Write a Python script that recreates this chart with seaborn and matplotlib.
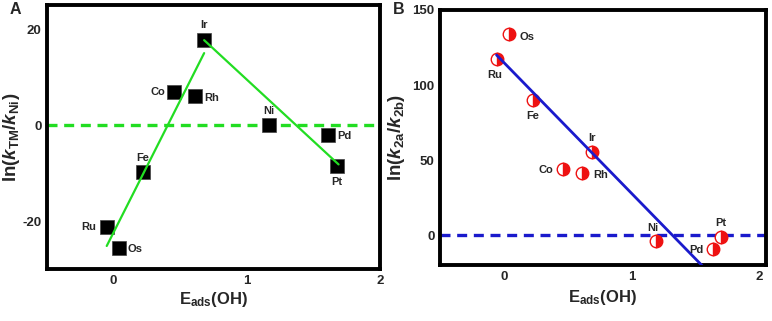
import numpy as np
import pandas as pd
import matplotlib
matplotlib.use('Agg')
import matplotlib.pyplot as plt
import seaborn as sns

sns.set_style('white')
plt.rcParams['font.family'] = ['Liberation Sans', 'DejaVu Sans']
plt.rcParams['font.weight'] = 'bold'
plt.rcParams['axes.unicode_minus'] = False
plt.rcParams['mathtext.fontset'] = 'custom'
plt.rcParams['mathtext.rm'] = 'Liberation Sans:bold'
plt.rcParams['mathtext.it'] = 'Liberation Sans:bold:italic'
plt.rcParams['mathtext.bf'] = 'Liberation Sans:bold'

# panel A data
metals_a = ['Ir', 'Co', 'Rh', 'Ni', 'Pd', 'Pt', 'Fe', 'Ru', 'Os']
eads_a = [0.68, 0.457, 0.61, 1.166, 1.61, 1.675, 0.222, -0.052, 0.037]
lnk_a = [17.7, 6.9, 6.0, 0.0, -2.0, -8.6, -9.7, -21.3, -25.6]
fit1_x = [-0.052, 0.68]
fit1_y = [-25.2, 15.0]
fit2_x = [0.68, 1.69]
fit2_y = [17.7, -8.2]

# panel B data
metals_b = ['Os', 'Ru', 'Fe', 'Ir', 'Co', 'Rh', 'Ni', 'Pt', 'Pd']
eads_b = [0.04, -0.058, 0.224, 0.692, 0.46, 0.613, 1.19, 1.70, 1.64]
lnk_b = [134.0, 117.5, 90.2, 55.7, 44.3, 41.6, -3.9, -1.1, -9.1]
fitb_x = [-0.058, 1.566]
fitb_y = [120.0, -21.6]

# label offsets (points)
off_a = {'Ir': (0, 11), 'Co': (-12, 0), 'Rh': (12, -1), 'Ni': (0, 10), 'Pd': (12, -1),
         'Pt': (0, -11), 'Fe': (0, 10), 'Ru': (-13, 0), 'Os': (12, -1)}
off_b = {'Os': (13, -2), 'Ru': (-1, -12), 'Fe': (0, -12), 'Ir': (0, 10), 'Co': (-12, -1),
         'Rh': (13, -2), 'Ni': (-2, 9), 'Pt': (0, 10), 'Pd': (-12, -1)}

fig = plt.figure(figsize=(7.72, 3.21), dpi=100)
ax1 = fig.add_axes([0.061, 0.162, 0.431, 0.822])
ax2 = fig.add_axes([0.570, 0.174, 0.422, 0.795])

green = '#22dd22'
blue = '#1a1acc'

# --- A ---
ax1.axhline(0, color=green, lw=2.4, ls=(0, (3, 2)), zorder=1)
sns.lineplot(x=fit1_x, y=fit1_y, ax=ax1, color=green, lw=1.6, sort=False, zorder=3)
sns.lineplot(x=fit2_x, y=fit2_y, ax=ax1, color=green, lw=1.6, sort=False, zorder=3)
sns.scatterplot(x=eads_a, y=lnk_a, ax=ax1, marker='s', s=90, color='black',
                edgecolor='#444444', linewidth=0.5, zorder=2)
for m, x, y in zip(metals_a, eads_a, lnk_a):
    ax1.annotate(m, (x, y), xytext=off_a[m], textcoords='offset points',
                 ha='center', va='center', fontsize=8, fontweight='bold')
ax1.set_xlim(-0.5, 2.0)
ax1.set_ylim(-30, 25)
ax1.set_xticks([0, 1, 2])
ax1.set_yticks([-20, 0, 20])
ax1.set_xlabel(r'E$_{\mathrm{ads}}$(OH)', fontsize=12, fontweight='bold')
ax1.set_ylabel(r'ln($k_{\mathrm{TM}}$/$k_{\mathrm{Ni}}$)', fontsize=13.5, fontweight='bold')
ax1.xaxis.set_label_coords(0.5, -0.08)
ax1.yaxis.set_label_coords(-0.075, 0.5)

# --- B ---
ax2.axhline(0, color=blue, lw=2.4, ls=(0, (3, 2)), zorder=1)
sns.lineplot(x=fitb_x, y=fitb_y, ax=ax2, color=blue, lw=2.0, sort=False, zorder=3)
df_b = pd.DataFrame({'x': eads_b, 'y': lnk_b})
sns.lineplot(data=df_b, x='x', y='y', ax=ax2, sort=False, estimator=None, linestyle='',
             marker='o', markersize=9, fillstyle='right', markerfacecolor='#ee1111',
             markerfacecoloralt='white', markeredgecolor='#ee1111', markeredgewidth=1.0,
             zorder=2)
for m, x, y in zip(metals_b, eads_b, lnk_b):
    ax2.annotate(m, (x, y), xytext=off_b[m], textcoords='offset points',
                 ha='center', va='center', fontsize=8, fontweight='bold')
ax2.set_xlim(-0.5, 2.05)
ax2.set_ylim(-20, 150)
ax2.set_xticks([0, 1, 2])
ax2.set_yticks([0, 50, 100, 150])
ax2.set_xlabel(r'E$_{\mathrm{ads}}$(OH)', fontsize=12, fontweight='bold')
ax2.set_ylabel(r'ln($k_{\mathrm{2a}}$/$k_{\mathrm{2b}}$)', fontsize=13.5, fontweight='bold')
ax2.xaxis.set_label_coords(0.5, -0.09)
ax2.yaxis.set_label_coords(-0.1, 0.5)

for ax in (ax1, ax2):
    for sp in ax.spines.values():
        sp.set_linewidth(2.8)
        sp.set_color('black')
    ax.tick_params(length=0, labelsize=9.5, pad=4)
    for t in ax.get_xticklabels() + ax.get_yticklabels():
        t.set_fontweight('bold')

fig.text(0.012, 0.955, 'A', fontsize=11.5, fontweight='bold')
fig.text(0.509, 0.955, 'B', fontsize=11.5, fontweight='bold')

fig.savefig('out.png', dpi=100)
